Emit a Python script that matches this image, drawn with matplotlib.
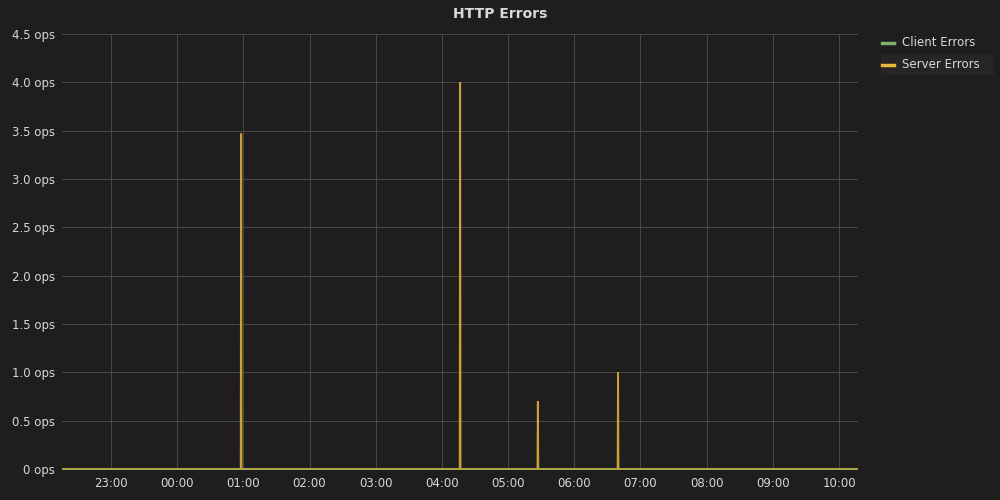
import matplotlib
matplotlib.use("Agg")
import matplotlib.pyplot as plt
import matplotlib.dates as mdates
from matplotlib.lines import Line2D
from matplotlib.patches import Rectangle
import pandas as pd

# ---- data ----
title = "HTTP Errors"
series_names = ["Client Errors", "Server Errors"]
series_colors = ["#7eb26d", "#eab839"]

client_times = ["2024-01-01 22:15:36", "2024-01-02 10:17:12"]
client_values = [0, 0]

server_times = ["2024-01-01 22:15:36",
                "2024-01-02 00:57:40", "2024-01-02 00:58:00", "2024-01-02 00:58:20",
                "2024-01-02 04:16:10", "2024-01-02 04:16:30", "2024-01-02 04:16:50",
                "2024-01-02 05:26:40", "2024-01-02 05:27:00", "2024-01-02 05:27:20",
                "2024-01-02 06:39:20", "2024-01-02 06:39:40", "2024-01-02 06:40:00",
                "2024-01-02 10:17:12"]
server_values = [0,
                 0, 3.47, 0,
                 0, 4.0, 0,
                 0, 0.7, 0,
                 0, 1.0, 0,
                 0]

x_start = "2024-01-01 22:15:36"
x_end = "2024-01-02 10:17:12"
y_ticks = [0, 0.5, 1.0, 1.5, 2.0, 2.5, 3.0, 3.5, 4.0, 4.5]
y_tick_labels = ["0 ops", "0.5 ops", "1.0 ops", "1.5 ops", "2.0 ops",
                 "2.5 ops", "3.0 ops", "3.5 ops", "4.0 ops", "4.5 ops"]

# ---- style ----
bg = "#1f1d1e"
text_col = "#d8d9da"
grid_col = "#4a494a"

fig = plt.figure(figsize=(10, 5), dpi=100, facecolor=bg)
ax = fig.add_axes([0.062, 0.062, 0.796, 0.870], facecolor=bg)

ct = pd.to_datetime(client_times, format="%Y-%m-%d %H:%M:%S")
st = pd.to_datetime(server_times, format="%Y-%m-%d %H:%M:%S")
ax.plot(st, server_values, color=series_colors[1], lw=1.4, clip_on=False, zorder=3,
        alpha=0.85, solid_joinstyle="miter", solid_capstyle="butt")
ax.plot(ct, client_values, color=series_colors[0], lw=1.4, clip_on=False, zorder=4,
        alpha=0.4, solid_capstyle="butt")

ax.set_xlim(pd.Timestamp(x_start), pd.Timestamp(x_end))
ax.set_ylim(0, 4.5)
ax.set_yticks(y_ticks)
ax.set_yticklabels(y_tick_labels)
ax.xaxis.set_major_locator(mdates.HourLocator())
ax.xaxis.set_major_formatter(mdates.DateFormatter("%H:%M"))

for s in ax.spines.values():
    s.set_visible(False)
ax.tick_params(axis="both", length=0, colors=text_col, labelsize=8.5)
ax.tick_params(axis="y", pad=5)
ax.tick_params(axis="x", pad=6)
ax.grid(True, color=grid_col, lw=0.7)
ax.set_axisbelow(True)

fig.text(0.5, 0.972, title, ha="center", va="center", color=text_col,
         fontsize=10, fontweight="bold")

# legend
fig.add_artist(Rectangle((0.881, 0.850), 0.113, 0.042, transform=fig.transFigure,
                         facecolor="#262425", edgecolor="none", zorder=0))
legend_y = [0.914, 0.871]
for name, col, y in zip(series_names, series_colors, legend_y):
    fig.add_artist(Line2D([0.882, 0.894], [y, y], transform=fig.transFigure,
                          color=col, lw=2.5))
    fig.text(0.902, y, name, ha="left", va="center", color=text_col, fontsize=8.5)

fig.savefig("out.png", dpi=100, facecolor=bg)
